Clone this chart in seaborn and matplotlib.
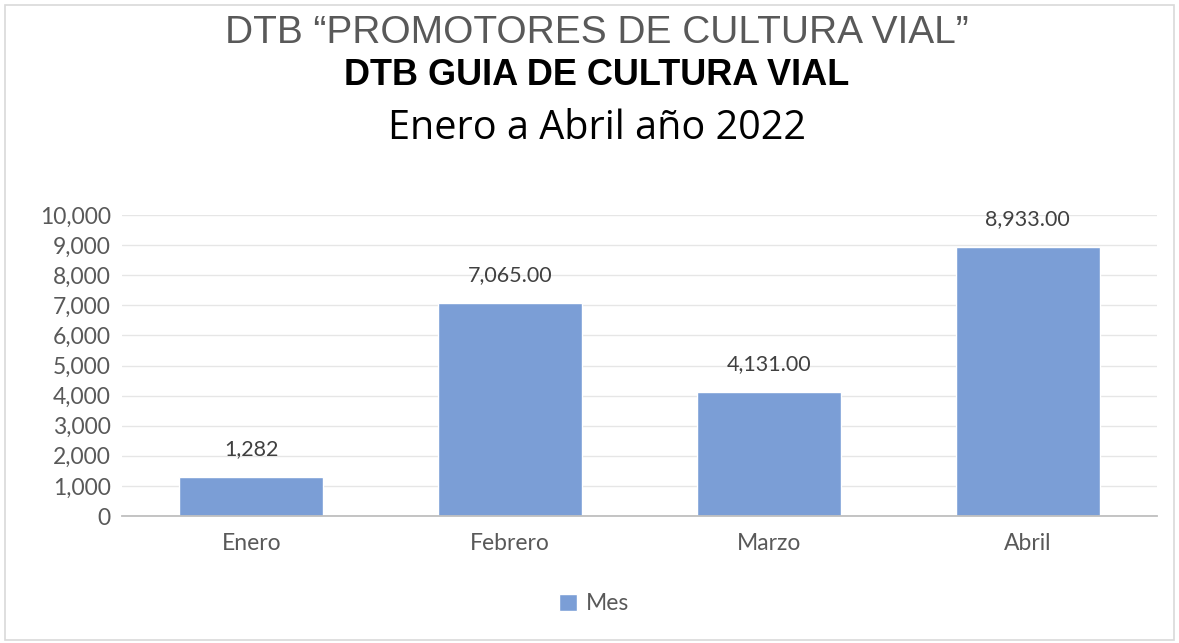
import pandas as pd
import matplotlib.pyplot as plt
import matplotlib.patches as patches
from matplotlib.ticker import FuncFormatter
import seaborn as sns

# === Data ===
months = ["Enero", "Febrero", "Marzo", "Abril"]
values = [1282, 7065, 4131, 8933]
value_labels = ["1,282", "7,065.00", "4,131.00", "8,933.00"]
series_name = "Mes"

# === Settings ===
sns.set_theme(style="white")
plt.rcParams['font.family'] = ['Lato', 'DejaVu Sans']
bar_color = "#7B9ED6"
text_gray = "#595959"

df = pd.DataFrame({"mes": months, "valor": values, "serie": series_name})

fig = plt.figure(figsize=(11.79, 6.43), dpi=100)
ax = fig.add_axes([0.1035, 0.1975, 0.8779, 0.4681])

sns.barplot(data=df, x="mes", y="valor", hue="serie", palette=[bar_color],
            width=0.557, ax=ax, saturation=1, legend=True)

ax.set_ylim(0, 10000)
ax.set_xlim(-0.5, 3.5)
ax.set_yticks(range(0, 10001, 1000))
ax.yaxis.set_major_formatter(FuncFormatter(lambda v, p: f"{int(v):,}"))
ax.grid(axis="y", color="#E6E6E6", linewidth=1)
ax.set_axisbelow(True)
for s in ["top", "right", "left"]:
    ax.spines[s].set_visible(False)
ax.spines["bottom"].set_color("#BFBFBF")
ax.spines["bottom"].set_linewidth(1.3)
ax.tick_params(axis="both", length=0, labelsize=16.5, colors=text_gray)
ax.tick_params(axis="x", pad=12)
ax.tick_params(axis="y", pad=8)
ax.set_xlabel("")
ax.set_ylabel("")

# value labels
for bar, lab in zip(ax.patches, value_labels):
    ax.annotate(lab, (bar.get_x() + bar.get_width() / 2, bar.get_height()),
                xytext=(0, 13), textcoords="offset points", ha="center", va="bottom",
                fontsize=15.5, color="#404040")

# legend below, centred on the figure
leg = ax.legend(loc="center", bbox_to_anchor=(0.504, 0.061), bbox_transform=fig.transFigure,
                frameon=False, fontsize=16.5, handlelength=0.75, handleheight=0.75,
                handletextpad=0.4)
for t in leg.get_texts():
    t.set_color(text_gray)

# titles
fig.text(0.506, 0.948, "DTB \u201cPROMOTORES DE CULTURA VIAL\u201d", ha="center", va="center",
         fontsize=28, color="#595959", family=["Liberation Sans", "DejaVu Sans"])
fig.text(0.506, 0.882, "DTB GUIA DE CULTURA VIAL", ha="center", va="center",
         fontsize=26, fontweight="bold", color="black",
         family=["Liberation Sans", "DejaVu Sans"])
fig.text(0.506, 0.799, "Enero a Abril a\u00f1o 2022", ha="center", va="center",
         fontsize=28.5, color="black", family=["Open Sans", "DejaVu Sans"])

# outer border
fig.patches.append(patches.Rectangle((0.004, 0.004), 0.992, 0.988, transform=fig.transFigure,
                                     fill=False, edgecolor="#D9D9D9", linewidth=1.2))

fig.savefig("out.png", dpi=100)
print("Plot saved.")
